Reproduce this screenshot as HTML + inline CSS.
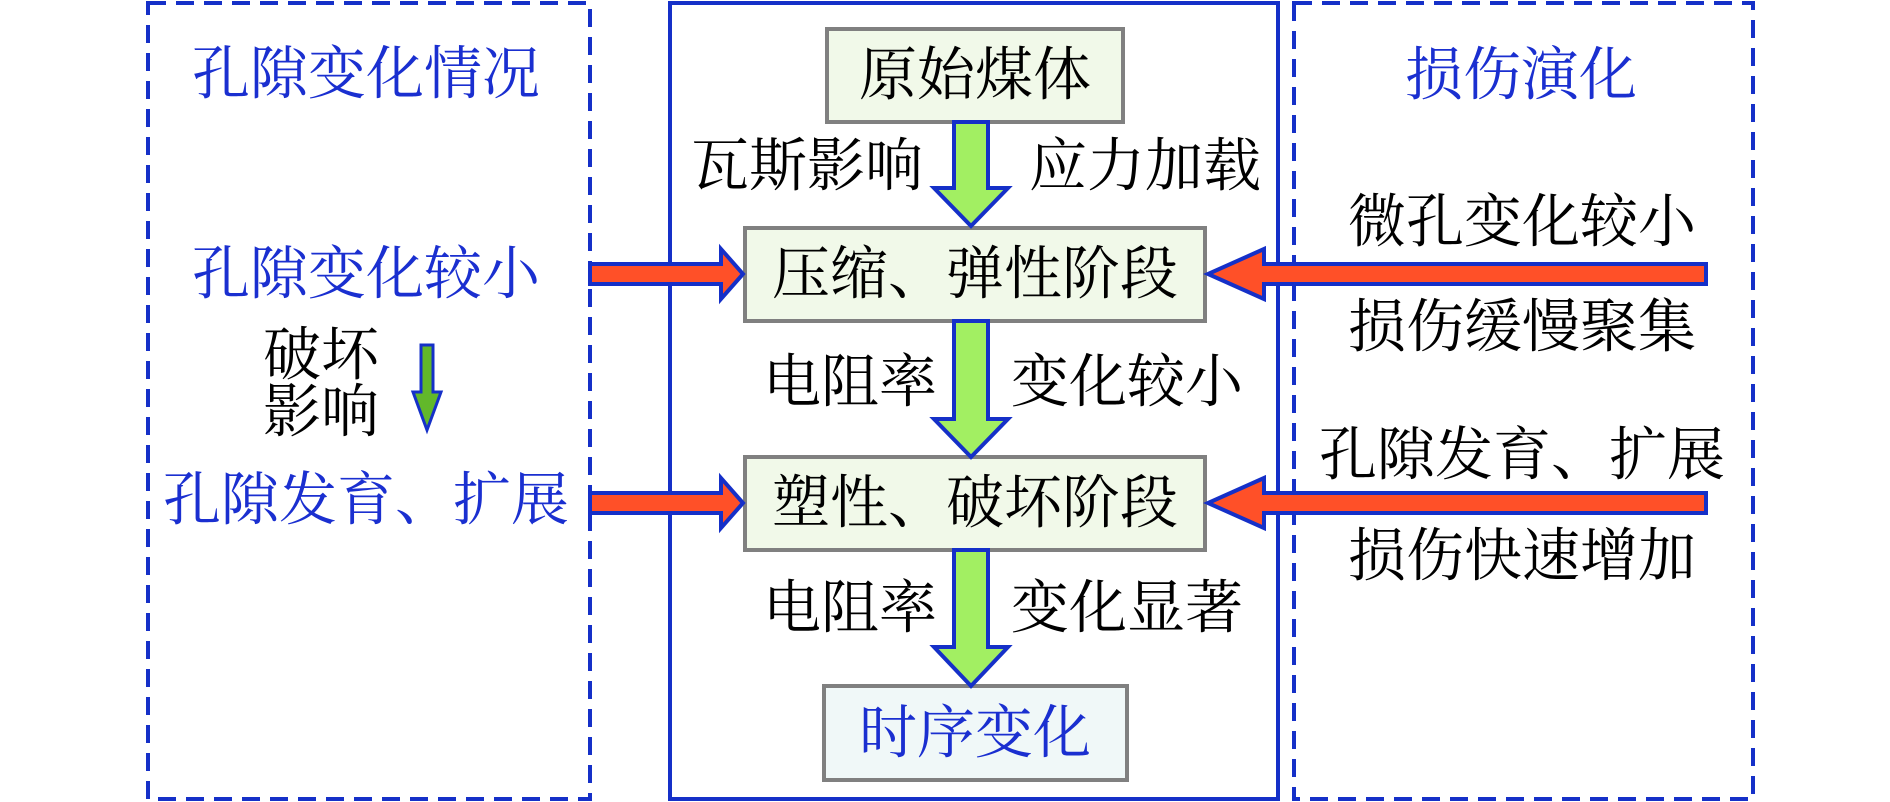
<!DOCTYPE html>
<html><head><meta charset="utf-8"><style>
html,body{margin:0;padding:0;background:#fff;}
svg{display:block;}
text{font-family:"Liberation Serif","Noto Serif CJK SC",serif;font-size:58px;dominant-baseline:central;text-anchor:middle;}
.b{fill:#1a2fd0;}
.k{fill:#000;}
</style></head><body>
<svg width="1890" height="802" viewBox="0 0 1890 802" xmlns="http://www.w3.org/2000/svg">
<rect x="148" y="3" width="442" height="796" fill="none" stroke="#1530c8" stroke-width="4" stroke-dasharray="18,10"/>
<rect x="1294" y="3" width="459" height="796" fill="none" stroke="#1530c8" stroke-width="4" stroke-dasharray="18,10"/>
<rect x="670" y="3" width="608" height="796" fill="none" stroke="#1530c8" stroke-width="4"/>

<rect x="827" y="29" width="296" height="93" fill="#f1f9e9" stroke="#808080" stroke-width="4"/>
<rect x="745" y="228" width="460" height="93" fill="#f1f9e9" stroke="#808080" stroke-width="4"/>
<rect x="745" y="457" width="460" height="93" fill="#f1f9e9" stroke="#808080" stroke-width="4"/>
<rect x="824" y="686" width="303" height="94" fill="#f0f8f8" stroke="#808080" stroke-width="4"/>

<g fill="#a2ef62" stroke="#1530c8" stroke-width="4" stroke-linejoin="miter">
<polygon points="954,122 988,122 988,188 1008,188 971,226 934,188 954,188"/>
<polygon points="954,321 988,321 988,419 1008,419 971,457 934,419 954,419"/>
<polygon points="954,550 988,550 988,647 1008,647 971,686 934,647 954,647"/>
<polygon points="421,345 433,345 433,392 441,392 427,430 413,392 421,392" stroke-width="3" fill="#62b82a"/>
</g>

<g fill="#ff5028" stroke="#1530c8" stroke-width="4">
<polygon points="590,264 721,264 721,249 743,274 721,299 721,284 590,284"/>
<polygon points="590,493 721,493 721,478 743,503 721,528 721,513 590,513"/>
<polygon points="1706,264 1264,264 1264,249 1208,274 1264,299 1264,284 1706,284"/>
<polygon points="1706,493 1264,493 1264,478 1208,503 1264,528 1264,513 1706,513"/>
</g>

<text class="k" x="975" y="75">原始煤体</text>
<text class="k" x="975" y="274">压缩、弹性阶段</text>
<text class="k" x="975" y="503">塑性、破坏阶段</text>
<text class="b" x="975" y="733">时序变化</text>

<text class="k" x="807" y="166">瓦斯影响</text>
<text class="k" x="1145" y="166">应力加载</text>
<text class="k" x="850" y="382">电阻率</text>
<text class="k" x="1127" y="382">变化较小</text>
<text class="k" x="850" y="608">电阻率</text>
<text class="k" x="1127" y="608">变化显著</text>

<text class="b" x="366" y="74">孔隙变化情况</text>
<text class="b" x="366" y="274">孔隙变化较小</text>
<text class="k" x="321" y="355">破坏</text>
<text class="k" x="321" y="412">影响</text>
<text class="b" x="366" y="500">孔隙发育、扩展</text>

<text class="b" x="1521" y="75">损伤演化</text>
<text class="k" x="1522" y="222">微孔变化较小</text>
<text class="k" x="1522" y="327">损伤缓慢聚集</text>
<text class="k" x="1522" y="455">孔隙发育、扩展</text>
<text class="k" x="1522" y="556">损伤快速增加</text>
</svg>
</body></html>
